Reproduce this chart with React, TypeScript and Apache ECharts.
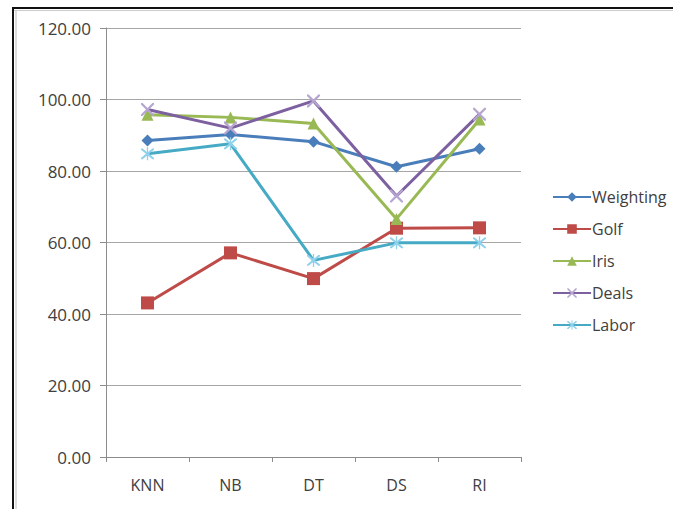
import React, { useEffect, useRef } from "react";
import * as echarts from "echarts";

const categories = ["KNN", "NB", "DT", "DS", "RI"];
const weighting = [88.5, 90.2, 88.2, 81.2, 86.2];
const golf = [43.1, 57.1, 49.9, 64.0, 64.1];
const iris = [95.7, 95.0, 93.3, 66.6, 94.4];
const deals = [97.2, 92.0, 99.6, 73.0, 95.9];
const labor = [84.8, 87.6, 55.0, 59.9, 59.9];

const FONT = "Open Sans";
const TEXT = "#404040";

// thin X cross marker
const X_MARK =
  "path://M0,0 L1.2,0 L5,3.8 L8.8,0 L10,0 L10,1.2 L6.2,5 L10,8.8 L10,10 L8.8,10 L5,6.2 L1.2,10 L0,10 L0,8.8 L3.8,5 L0,1.2 Z";
// asterisk marker: X cross plus a vertical bar
const STAR_MARK =
  "path://M0,0 L1.2,0 L5,3.8 L8.8,0 L10,0 L10,1.2 L6.2,5 L10,8.8 L10,10 L8.8,10 L5,6.2 L1.2,10 L0,10 L0,8.8 L3.8,5 L0,1.2 Z M4.5,-1 L5.5,-1 L5.5,11 L4.5,11 Z";

export default function App() {
  const ref = useRef<HTMLDivElement>(null);

  useEffect(() => {
    if (!ref.current) return;
    const chart = echarts.init(ref.current, undefined, { renderer: "svg" });

    const mk = (
      name: string,
      data: number[],
      color: string,
      symbol: string,
      symbolSize: number,
      markerColor?: string
    ) => ({
      name,
      type: "line",
      data,
      symbol,
      symbolSize,
      showAllSymbol: true,
      lineStyle: { color, width: 3 },
      itemStyle: { color: markerColor || color, borderWidth: 0 },
      emphasis: { disabled: true },
    });

    chart.setOption({
      animation: false,
      backgroundColor: "#ffffff",
      textStyle: { fontFamily: FONT },
      grid: { left: 106, right: 152, top: 28, bottom: 52 },
      legend: {
        orient: "vertical",
        left: 547,
        top: 184,
        itemGap: 16,
        itemWidth: 38,
        itemHeight: 12,
        textStyle: { fontFamily: FONT, fontSize: 16, color: TEXT, padding: [0, 0, 0, -4] },
        data: ["Weighting", "Golf", "Iris", "Deals", "Labor"],
      },
      xAxis: {
        type: "category",
        data: categories,
        boundaryGap: true,
        axisLine: { lineStyle: { color: "#8c8c8c", width: 1 } },
        axisTick: { show: true, length: 5, lineStyle: { color: "#8c8c8c" } },
        axisLabel: { fontFamily: FONT, fontSize: 16, color: TEXT, margin: 20 },
        splitLine: { show: false },
      },
      yAxis: {
        type: "value",
        min: 0,
        max: 120,
        interval: 20,
        axisLine: { show: true, lineStyle: { color: "#8c8c8c", width: 1 } },
        axisTick: { show: true, length: 6, lineStyle: { color: "#8c8c8c" } },
        axisLabel: {
          fontFamily: FONT,
          fontSize: 17,
          color: TEXT,
          margin: 15,
          formatter: (v: number) => v.toFixed(2),
        },
        splitLine: { show: true, lineStyle: { color: "#a6a6a6", width: 1 } },
      },
      graphic: [
        { type: "line", shape: { x1: 13, y1: 8, x2: 13, y2: 509 }, style: { stroke: "#111", lineWidth: 2 } },
        { type: "line", shape: { x1: 12, y1: 8, x2: 673, y2: 8 }, style: { stroke: "#111", lineWidth: 2 } },
        { type: "line", shape: { x1: 16, y1: 10, x2: 16, y2: 509 }, style: { stroke: "#bbbbbb", lineWidth: 1 } },
        { type: "line", shape: { x1: 14, y1: 10.5, x2: 673, y2: 10.5 }, style: { stroke: "#cccccc", lineWidth: 1 } },
      ],
      series: [
        mk("Weighting", weighting, "#4a7ebb", "diamond", 12),
        mk("Golf", golf, "#be4b48", "rect", 13),
        mk("Iris", iris, "#98b954", "triangle", 12),
        mk("Deals", deals, "#7d60a0", X_MARK, 13, "#b5a5d0"),
        mk("Labor", labor, "#46aac5", STAR_MARK, 13, "#8fd0ea"),
      ],
    });

    return () => chart.dispose();
  }, []);

  return (
    <div
      ref={ref}
      style={{ position: "absolute", left: 0, top: 0, width: 673, height: 509 }}
    />
  );
}
